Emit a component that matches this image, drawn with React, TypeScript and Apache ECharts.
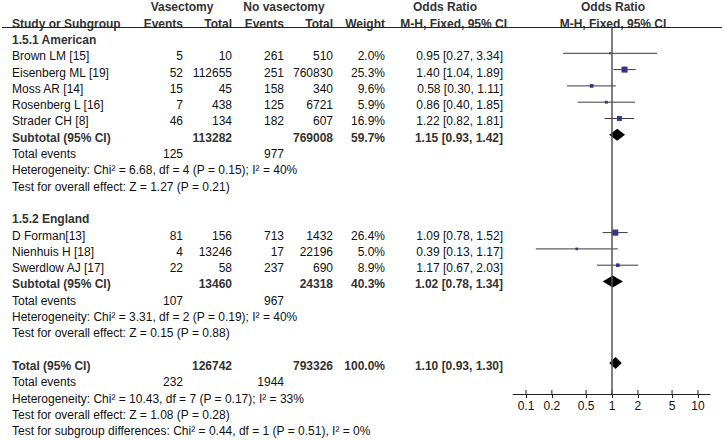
import React, { useEffect, useRef } from 'react';
import * as echarts from 'echarts';

const FONT = '"Liberation Sans", Arial, Helvetica, sans-serif';

// ---- study-level data ----
const studyNames = ['Brown LM [15]', 'Eisenberg ML [19]', 'Moss AR [14]', 'Rosenberg L [16]', 'Strader CH [8]', 'D Forman[13]', 'Nienhuis H [18]', 'Swerdlow AJ [17]'];
const studyRows = [1, 2, 3, 4, 5, 12, 13, 14];
const vasEvents = [5, 52, 15, 7, 46, 81, 4, 22];
const vasTotal = [10, 112655, 45, 438, 134, 156, 13246, 58];
const noEvents = [261, 251, 158, 125, 182, 713, 17, 237];
const noTotal = [510, 760830, 340, 6721, 607, 1432, 22196, 690];
const weights = [2.0, 25.3, 9.6, 5.9, 16.9, 26.4, 5.0, 8.9];
const orMid = [0.95, 1.40, 0.58, 0.86, 1.22, 1.09, 0.39, 1.17];
const orLow = [0.27, 1.04, 0.30, 0.40, 0.82, 0.78, 0.13, 0.67];
const orHigh = [3.34, 1.89, 1.11, 1.85, 1.81, 1.52, 1.17, 2.03];

// ---- subgroup data ----
const groupNames = ['1.5.1 American', '1.5.2 England'];
const groupRows = [0, 11];
const subtotalRows = [6, 15];
const subVasTotal = [113282, 13460];
const subNoTotal = [769008, 24318];
const subWeight = [59.7, 40.3];
const subOR = [1.15, 1.02];
const subLow = [0.93, 0.78];
const subHigh = [1.42, 1.34];
const subVasEvents = [125, 107];
const subNoEvents = [977, 967];
const subHet = [
  'Heterogeneity: Chi² = 6.68, df = 4 (P = 0.15); I² = 40%',
  'Heterogeneity: Chi² = 3.31, df = 2 (P = 0.19); I² = 40%',
];
const subEffect = [
  'Test for overall effect: Z = 1.27 (P = 0.21)',
  'Test for overall effect: Z = 0.15 (P = 0.88)',
];

// ---- overall ----
const totalRow = 20;
const totalVasTotal = 126742;
const totalNoTotal = 793326;
const totalWeight = 100.0;
const totalOR = 1.10;
const totalLow = 0.93;
const totalHigh = 1.30;
const totalVasEvents = 232;
const totalNoEvents = 1944;
const totalHet = 'Heterogeneity: Chi² = 10.43, df = 7 (P = 0.17); I² = 33%';
const totalEffect = 'Test for overall effect: Z = 1.08 (P = 0.28)';
const subgroupDiff = 'Test for subgroup differences: Chi² = 0.44, df = 1 (P = 0.51), I² = 0%';

// ---- axis ----
const tickValues = [0.1, 0.2, 0.5, 1, 2, 5, 10];
const tickLabels = ['0.1', '0.2', '0.5', '1', '2', '5', '10'];

const lg = (v: number) => Math.log10(v);
const fmtOR = (m: number, l: number, h: number) => `${m.toFixed(2)} [${l.toFixed(2)}, ${h.toFixed(2)}]`;

export default function App() {
  const ref = useRef<HTMLDivElement>(null);
  useEffect(() => {
    document.body.style.margin = '0';
    const chart = echarts.init(ref.current!, null, { renderer: 'svg' });

    const ciData = studyNames.map((_, i) => [lg(orLow[i]), lg(orHigh[i]), studyRows[i]]);
    const sqData = studyNames.map((_, i) => [lg(orMid[i]), studyRows[i], weights[i]]);
    const diaData = [
      [lg(subLow[0]), lg(subOR[0]), lg(subHigh[0]), subtotalRows[0]],
      [lg(subLow[1]), lg(subOR[1]), lg(subHigh[1]), subtotalRows[1]],
      [lg(totalLow), lg(totalOR), lg(totalHigh), totalRow],
    ];
    const tickLog = tickValues.map(lg);
    const xmin = -1.151;
    const xmax = 1.14;
    const ymin = -0.552;
    const ymax = 21.902;

    chart.setOption({
      animation: false,
      grid: { left: 513, right: 14, top: 28, bottom: 46, containLabel: false },
      xAxis: {
        type: 'value', min: xmin, max: xmax, position: 'bottom',
        axisLine: { show: true, onZero: false, lineStyle: { color: '#222', width: 1 } },
        axisTick: { show: true, inside: false, length: 4, customValues: tickLog, lineStyle: { color: '#222', width: 1 } },
        axisLabel: {
          show: true, customValues: tickLog, margin: 6, fontSize: 12, color: '#111', fontFamily: FONT,
          formatter: (v: number) => {
            const idx = tickLog.findIndex((t) => Math.abs(t - v) < 1e-6);
            return idx >= 0 ? tickLabels[idx] : '';
          },
        },
        splitLine: { show: false },
      },
      yAxis: { type: 'value', inverse: true, min: ymin, max: ymax, show: false },
      series: [
        {
          // upper half of the axis ticks (ticks cross the axis line)
          type: 'custom',
          encode: { x: 0 },
          data: tickLog.map((t) => [t]),
          renderItem: (params: any, api: any) => {
            const p = api.coord([api.value(0), ymax]);
            return {
              type: 'line',
              shape: { x1: p[0], y1: p[1] - 4, x2: p[0], y2: p[1] },
              style: { stroke: '#222', lineWidth: 1 },
            };
          },
          z: 1,
        },
        {
          type: 'custom',
          encode: { x: [0, 1], y: 2 },
          data: ciData,
          renderItem: (params: any, api: any) => {
            const a = api.coord([api.value(0), api.value(2)]);
            const b = api.coord([api.value(1), api.value(2)]);
            return {
              type: 'line',
              shape: { x1: a[0], y1: a[1], x2: b[0], y2: b[1] },
              style: { stroke: '#3a3a3a', lineWidth: 1 },
            };
          },
          z: 2,
        },
        {
          type: 'scatter',
          data: sqData,
          symbol: 'rect',
          symbolSize: (val: number[]) => Math.max(2, 1.2 * Math.sqrt(val[2])),
          itemStyle: { color: '#34348f', opacity: 1 },
          z: 3,
          markLine: {
            silent: true,
            symbol: 'none',
            label: { show: false },
            lineStyle: { color: '#555', width: 1.5, type: 'solid' },
            data: [{ xAxis: 0 }],
          },
        },
        {
          type: 'custom',
          encode: { x: [0, 1, 2], y: 3 },
          data: diaData,
          renderItem: (params: any, api: any) => {
            const l = api.coord([api.value(0), api.value(3)]);
            const c = api.coord([api.value(1), api.value(3)]);
            const h = api.coord([api.value(2), api.value(3)]);
            const hh = 6;
            return {
              type: 'polygon',
              shape: { points: [[l[0], c[1]], [c[0], c[1] - hh], [h[0], c[1]], [c[0], c[1] + hh]] },
              style: { fill: '#000' },
            };
          },
          z: 4,
        },
      ],
    });

    const py = (r: number) => (chart.convertToPixel({ yAxisIndex: 0 }, r) as number) + 3;
    const els: any[] = [];
    const txt = (s: string, x: number, row: number, align: string, bold = false) => {
      els.push({
        type: 'text', x, y: py(row), silent: true,
        style: {
          text: s, align, verticalAlign: 'middle',
          font: `${bold ? 'bold ' : ''}12px ${FONT}`,
          fill: bold ? '#333' : '#111',
        },
      });
    };
    const C = { name: 12, e1: 183, t1: 232, e2: 284, t2: 333, w: 385, or: 503 };

    // header rows
    txt('Vasectomy', 182, -2, 'center', true);
    txt('No vasectomy', 284, -2, 'center', true);
    txt('Odds Ratio', 445, -2, 'center', true);
    txt('Odds Ratio', 613, -2, 'center', true);
    txt('Study or Subgroup', C.name, -1, 'left', true);
    txt('Events', C.e1, -1, 'right', true);
    txt('Total', C.t1, -1, 'right', true);
    txt('Events', C.e2, -1, 'right', true);
    txt('Total', C.t2, -1, 'right', true);
    txt('Weight', C.w, -1, 'right', true);
    txt('M-H, Fixed, 95% CI', 507, -1, 'right', true);
    txt('M-H, Fixed, 95% CI', 613, -1, 'center', true);
    els.push({
      type: 'line', silent: true,
      shape: { x1: 2, y1: 27.5, x2: 722, y2: 27.5 },
      style: { stroke: '#222', lineWidth: 1 },
    });

    // studies
    studyNames.forEach((n, i) => {
      const r = studyRows[i];
      txt(n, C.name, r, 'left');
      txt(String(vasEvents[i]), C.e1, r, 'right');
      txt(String(vasTotal[i]), C.t1, r, 'right');
      txt(String(noEvents[i]), C.e2, r, 'right');
      txt(String(noTotal[i]), C.t2, r, 'right');
      txt(weights[i].toFixed(1) + '%', C.w, r, 'right');
      txt(fmtOR(orMid[i], orLow[i], orHigh[i]), C.or, r, 'right');
    });

    // subgroups
    groupNames.forEach((g, k) => {
      txt(g, C.name, groupRows[k], 'left', true);
      const s = subtotalRows[k];
      txt('Subtotal (95% CI)', C.name, s, 'left', true);
      txt(String(subVasTotal[k]), C.t1, s, 'right', true);
      txt(String(subNoTotal[k]), C.t2, s, 'right', true);
      txt(subWeight[k].toFixed(1) + '%', C.w, s, 'right', true);
      txt(fmtOR(subOR[k], subLow[k], subHigh[k]), C.or, s, 'right', true);
      txt('Total events', C.name, s + 1, 'left');
      txt(String(subVasEvents[k]), C.e1, s + 1, 'right');
      txt(String(subNoEvents[k]), C.e2, s + 1, 'right');
      txt(subHet[k], C.name, s + 2, 'left');
      txt(subEffect[k], C.name, s + 3, 'left');
    });

    // total
    txt('Total (95% CI)', C.name, totalRow, 'left', true);
    txt(String(totalVasTotal), C.t1, totalRow, 'right', true);
    txt(String(totalNoTotal), C.t2, totalRow, 'right', true);
    txt(totalWeight.toFixed(1) + '%', C.w, totalRow, 'right', true);
    txt(fmtOR(totalOR, totalLow, totalHigh), C.or, totalRow, 'right', true);
    txt('Total events', C.name, totalRow + 1, 'left');
    txt(String(totalVasEvents), C.e1, totalRow + 1, 'right');
    txt(String(totalNoEvents), C.e2, totalRow + 1, 'right');
    txt(totalHet, C.name, totalRow + 2, 'left');
    txt(totalEffect, C.name, totalRow + 3, 'left');
    txt(subgroupDiff, C.name, totalRow + 4, 'left');

    chart.setOption({ graphic: { elements: els } });

    return () => chart.dispose();
  }, []);
  return <div ref={ref} style={{ width: 724, height: 440 }} />;
}
